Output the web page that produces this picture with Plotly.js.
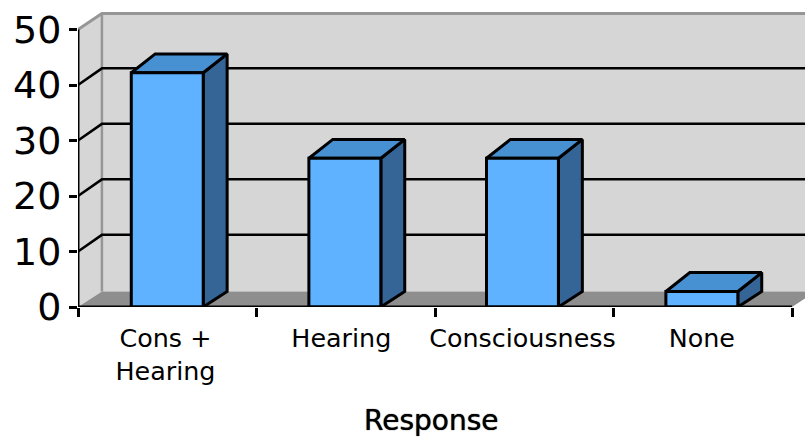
<!DOCTYPE html>
<html><head><meta charset="utf-8">
<script src="https://cdn.plot.ly/plotly-3.0.1.min.js"></script>
<style>html,body{margin:0;padding:0;background:#fff}</style>
</head><body><div id="chart" style="width:805px;height:443px"></div>
<script>
const categories = ["Cons +<br>Hearing", "Hearing", "Consciousness", "None"];
const labelAt = [0.49, 1.475, 2.49, 3.495];
const barAt = [0.5, 1.495, 2.49, 3.495];
const values = [42.2, 26.8, 26.8, 2.8];
const yTicks = [0, 10, 20, 30, 40, 50];
const xTitle = "Response";

const FRONT = "#5EB2FF", TOP = "#4790D2", SIDE = "#356596";
const WALL = "#D6D6D6", FLOOR = "#8E8E8E", EDGE = "#969696";
const DX = 0.134, FLOOR_RISE = 2.8, GRID_RISE = 3.0, BAR_RISE = 3.4, TOP_RISE = 2.9;
const BAR_W = 0.403, N = categories.length;

const traces = [];
function poly(x, y, fill, line, w) {
  traces.push({type:"scatter", mode:"lines", x:x.concat(x[0]), y:y.concat(y[0]), fill:"toself",
    fillcolor:fill, line:{color:line||fill, width:line?(w||3):0, shape:"linear"},
    hoverinfo:"skip", showlegend:false, cliponaxis:false});
}
function seg(x, y, color, w) {
  traces.push({type:"scatter", mode:"lines", x, y, line:{color, width:w}, hoverinfo:"skip", showlegend:false, cliponaxis:false});
}
const yMax = yTicks[yTicks.length-1];
poly([DX, N+DX, N+DX, DX], [FLOOR_RISE, FLOOR_RISE, yMax+TOP_RISE, yMax+TOP_RISE], WALL);
poly([0, DX, DX, 0], [0, FLOOR_RISE, yMax+TOP_RISE, yMax], WALL);
poly([0, N, N+DX, DX], [0, 0, FLOOR_RISE, FLOOR_RISE], FLOOR);
seg([0, DX, N+DX], [yMax, yMax+TOP_RISE, yMax+TOP_RISE], EDGE, 3);
seg([DX, DX], [FLOOR_RISE, yMax+TOP_RISE], EDGE, 2.5);
yTicks.filter(v => v>0 && v<yMax).forEach(v => seg([0, DX, N+DX], [v, v+GRID_RISE, v+GRID_RISE], "#000", 2.5));
values.forEach((v,i) => {
  const l = barAt[i]-BAR_W/2, r = l+BAR_W;
  poly([r, r+DX, r+DX, r], [0, FLOOR_RISE, v+BAR_RISE, v], SIDE, "#000");
  poly([l, r, r+DX, l+DX], [v, v, v+BAR_RISE, v+BAR_RISE], TOP, "#000");
  poly([l, r, r, l], [0, 0, v, v], FRONT, "#000");
});
seg([0, 0], [0, yMax], "#000", 3);
seg([0, N], [0, 0], "#000", 3);

const layout = {
  width:805, height:443, margin:{l:78, r:0, t:0, b:136},
  paper_bgcolor:"#fff", plot_bgcolor:"#fff", showlegend:false,
  font:{family:"DejaVu Sans", color:"#000"},
  xaxis:{range:[0, 727/178.5], showgrid:false, zeroline:false, showline:false,
    tickmode:"array", tickvals:labelAt, ticktext:categories,
    ticks:"", ticklabelstandoff:14, tickfont:{size:25.4, family:"DejaVu Sans", color:"#000"},
    minor:{tickmode:"array", tickvals:[0,1,2,3,4], ticks:"outside", ticklen:9, tickwidth:3, tickcolor:"#000", showgrid:false}},
  yaxis:{range:[0, 307/5.55], showgrid:false, zeroline:false, showline:false,
    tickmode:"array", tickvals:yTicks, ticks:"outside", ticklen:8, tickwidth:3, tickcolor:"#000",
    tickfont:{size:38, family:"DejaVu Sans", color:"#000"}, ticklabelstandoff:0},
  annotations:[{text:xTitle, xref:"x", yref:"paper", x:1.98, y:-0.37, yanchor:"middle", xanchor:"center",
    showarrow:false, font:{size:28, family:"DejaVu Sans", color:"#000", shadow:"0 0 1px #000"}}]
};
Plotly.newPlot("chart", traces, layout, {displayModeBar:false, staticPlot:true});
</script></body></html>
